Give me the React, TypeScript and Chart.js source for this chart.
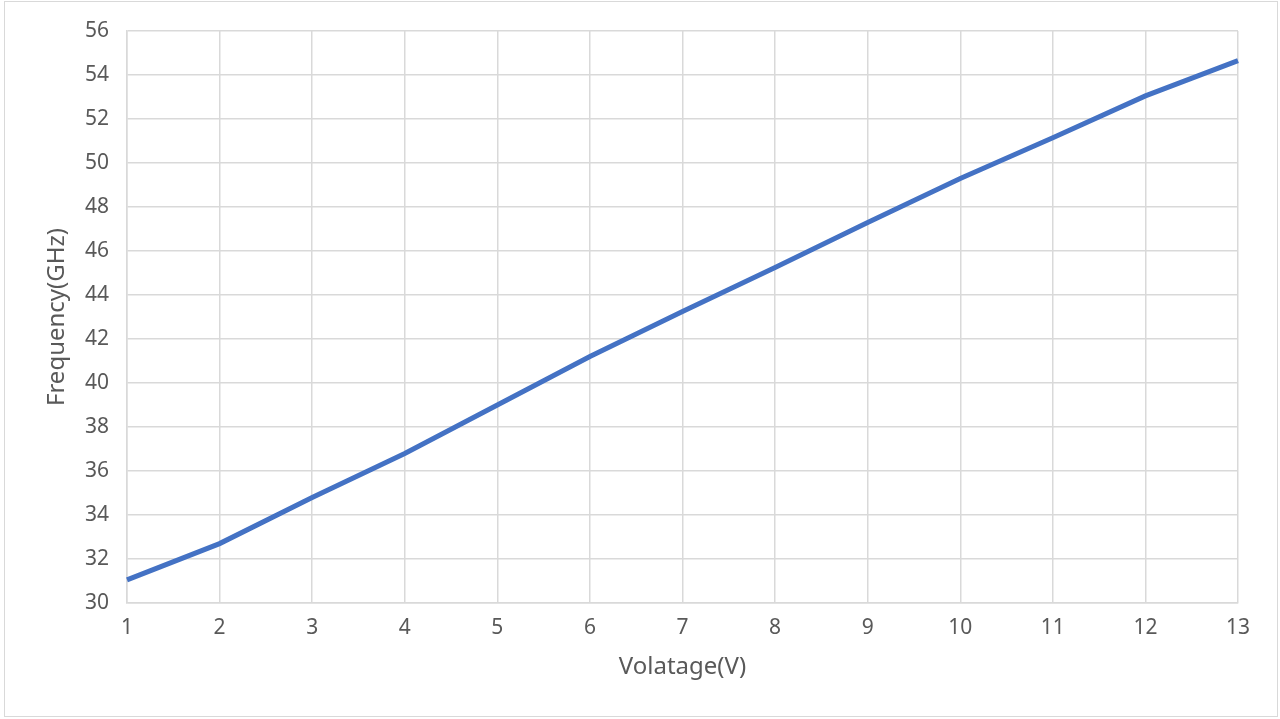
import React, { useEffect, useRef } from "react";
import { Chart, registerables } from "chart.js";

Chart.register(...registerables);

const voltages: string[] = ["1", "2", "3", "4", "5", "6", "7", "8", "9", "10", "11", "12", "13"];
const frequencies: number[] = [31.05, 32.7, 34.8, 36.8, 39.0, 41.2, 43.25, 45.25, 47.3, 49.3, 51.15, 53.05, 54.65];
const yMin = 30;
const yMax = 56;
const yStep = 2;
const xTitle = "Volatage(V)";
const yTitle = "Frequency(GHz)";

const FONT = "'Noto Sans', sans-serif";
const TEXT = "#595959";
const GRID = "#d9d9d9";

export default function App() {
  const ref = useRef<HTMLCanvasElement | null>(null);

  useEffect(() => {
    if (!ref.current) return;
    const chart = new Chart(ref.current, {
      type: "line",
      data: {
        labels: voltages,
        datasets: [
          {
            data: frequencies,
            borderColor: "#4472C4",
            backgroundColor: "#4472C4",
            borderWidth: 5,
            pointRadius: 0,
            tension: 0,
            fill: false,
          },
        ],
      },
      options: {
        responsive: false,
        animation: false,
        devicePixelRatio: 1,
        layout: { padding: { left: 0, right: 42, top: 31, bottom: 0 } },
        plugins: { legend: { display: false }, tooltip: { enabled: false } },
        scales: {
          x: {
            type: "category",
            offset: false,
            grid: { color: GRID, lineWidth: 1.5, drawTicks: false },
            border: { color: GRID, width: 1.5 },
            ticks: { color: TEXT, font: { family: FONT, size: 21 }, padding: 12, maxRotation: 0 },
            title: {
              display: true,
              text: xTitle,
              color: TEXT,
              font: { family: FONT, size: 24 },
              padding: { top: 0, bottom: 37 },
            },
            afterFit: (s: any) => {
              s.height = 116;
            },
          },
          y: {
            min: yMin,
            max: yMax,
            grid: { color: GRID, lineWidth: 1.5, drawTicks: false },
            border: { color: GRID, width: 1.5 },
            ticks: { stepSize: yStep, color: TEXT, font: { family: FONT, size: 21 }, padding: 18 },
            title: {
              display: true,
              text: yTitle,
              color: TEXT,
              font: { family: FONT, size: 24 },
              padding: { top: 43, bottom: 0 },
            },
            afterFit: (s: any) => {
              s.width = 127;
            },
          },
        },
      },
    });
    return () => chart.destroy();
  }, []);

  return (
    <div style={{ position: "absolute", left: 0, top: 0, width: 1280, height: 719, background: "#fff" }}>
      <div
        style={{
          position: "absolute",
          left: 4,
          top: 1,
          width: 1274,
          height: 716,
          boxSizing: "border-box",
          border: "1.5px solid #d9d9d9",
        }}
      />
      <canvas ref={ref} width={1280} height={719} style={{ position: "absolute", left: 0, top: 0 }} />
    </div>
  );
}
